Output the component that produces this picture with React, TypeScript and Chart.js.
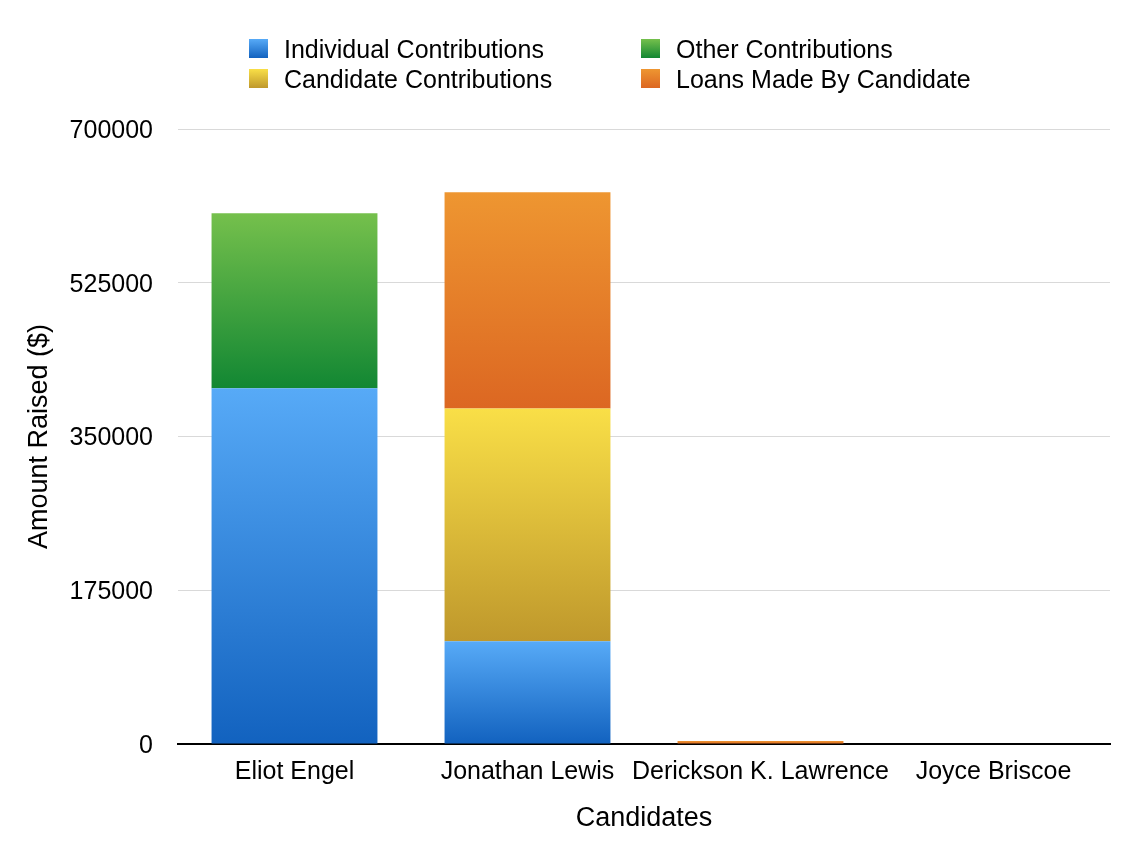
import React, { useEffect, useRef } from "react";
import { Chart, registerables } from "chart.js";

Chart.register(...registerables);

const categories = ["Eliot Engel", "Jonathan Lewis", "Derickson K. Lawrence", "Joyce Briscoe"];
const individualContributions = [405000, 117000, 0, 0];
const candidateContributions = [0, 265000, 0, 0];
const otherContributions = [199000, 0, 0, 0];
const loansMadeByCandidate = [0, 246000, 3500, 0];
const yTicks = [0, 175000, 350000, 525000, 700000];

const FONT = '"Liberation Sans", Arial, Helvetica, sans-serif';

const seriesLabels = [
  "Individual Contributions",
  "Candidate Contributions",
  "Other Contributions",
  "Loans Made By Candidate",
];
const seriesData = [individualContributions, candidateContributions, otherContributions, loansMadeByCandidate];

const gradientStops: Record<string, [string, string]> = {
  "Individual Contributions": ["#57aaf7", "#1262bf"],
  "Candidate Contributions": ["#f9df47", "#bf982c"],
  "Other Contributions": ["#75c04c", "#128733"],
  "Loans Made By Candidate": ["#ee9631", "#dc6722"],
};

const legendOrder = [
  ["Individual Contributions", "Other Contributions"],
  ["Candidate Contributions", "Loans Made By Candidate"],
];

function segmentFill(ctx: any) {
  const chart = ctx.chart;
  const ds = ctx.dataset;
  const stops = gradientStops[ds.label];
  const yScale = chart.scales && chart.scales.y;
  if (!chart.chartArea || !yScale || ctx.dataIndex === undefined) return stops[1];
  const j = ctx.dataIndex;
  const i = ctx.datasetIndex;
  let base = 0;
  for (let k = 0; k < i; k++) base += seriesData[k][j] || 0;
  const top = base + (seriesData[i][j] || 0);
  const pTop = yScale.getPixelForValue(top);
  const pBase = yScale.getPixelForValue(base);
  if (!isFinite(pTop) || !isFinite(pBase) || Math.abs(pBase - pTop) < 0.01) return stops[1];
  const g = chart.ctx.createLinearGradient(0, pTop, 0, pBase);
  g.addColorStop(0, stops[0]);
  g.addColorStop(1, stops[1]);
  return g;
}

const legendPlugin = {
  id: "gridLegend",
  afterDraw(chart: any) {
    const ctx = chart.ctx;
    const colX = [249, 641];
    const rowY = [48.5, 78.5];
    const box = 19;
    ctx.save();
    ctx.font = `25px ${FONT}`;
    ctx.textBaseline = "middle";
    ctx.textAlign = "left";
    legendOrder.forEach((row, r) => {
      row.forEach((label, c) => {
        const x = colX[c];
        const y = rowY[r];
        const stops = gradientStops[label];
        const g = ctx.createLinearGradient(0, y - box / 2, 0, y + box / 2);
        g.addColorStop(0, stops[0]);
        g.addColorStop(1, stops[1]);
        ctx.fillStyle = g;
        ctx.fillRect(x, y - box / 2, box, box);
        ctx.fillStyle = "#000";
        ctx.fillText(label, x + 35, y + 3);
      });
    });
    ctx.restore();
  },
};

export default function App() {
  const ref = useRef<HTMLCanvasElement>(null);

  useEffect(() => {
    if (!ref.current) return;
    const chart = new Chart(ref.current, {
      type: "bar",
      data: {
        labels: categories,
        datasets: seriesLabels.map((label, i) => ({
          label,
          data: seriesData[i],
          backgroundColor: segmentFill,
        })),
      },
      options: {
        responsive: false,
        animation: false,
        devicePixelRatio: 1,
        layout: { padding: { top: 129, right: 26, left: 0, bottom: 0 } },
        datasets: { bar: { categoryPercentage: 1, barPercentage: 0.712, borderWidth: 0 } },
        plugins: {
          legend: { display: false },
          title: { display: false },
          tooltip: { enabled: false },
        },
        scales: {
          x: {
            stacked: true,
            grid: { color: "transparent", drawTicks: false },
            border: { display: true, color: "#000", width: 2 },
            ticks: { color: "#000", font: { family: FONT, size: 25 }, padding: 13, maxRotation: 0, autoSkip: false },
            title: { display: true, text: "Candidates", color: "#000", font: { family: FONT, size: 27 }, padding: { top: 10, bottom: 11 } },
            afterFit(scale: any) {
              scale.height = 102;
            },
          },
          y: {
            stacked: true,
            min: 0,
            max: 700000,
            afterBuildTicks(scale: any) {
              scale.ticks = yTicks.map((v) => ({ value: v }));
            },
            grid: { color: "#d9d9d9", lineWidth: 1, drawTicks: false },
            border: { display: false },
            ticks: {
              color: "#000",
              font: { family: FONT, size: 25 },
              padding: 25,
              labelOffset: 2,
              callback: (v: any) => String(v),
            },
            title: { display: true, text: "Amount Raised ($)", color: "#000", font: { family: FONT, size: 27 }, padding: { top: 23, bottom: 10 } },
            afterFit(scale: any) {
              scale.width = 178;
            },
          },
        },
      },
      plugins: [legendPlugin],
    });
    return () => chart.destroy();
  }, []);

  return (
    <div style={{ position: "absolute", left: 0, top: 0, width: 1136, height: 846, background: "#fff" }}>
      <canvas ref={ref} width={1136} height={846} style={{ display: "block", width: 1136, height: 846 }} />
    </div>
  );
}
